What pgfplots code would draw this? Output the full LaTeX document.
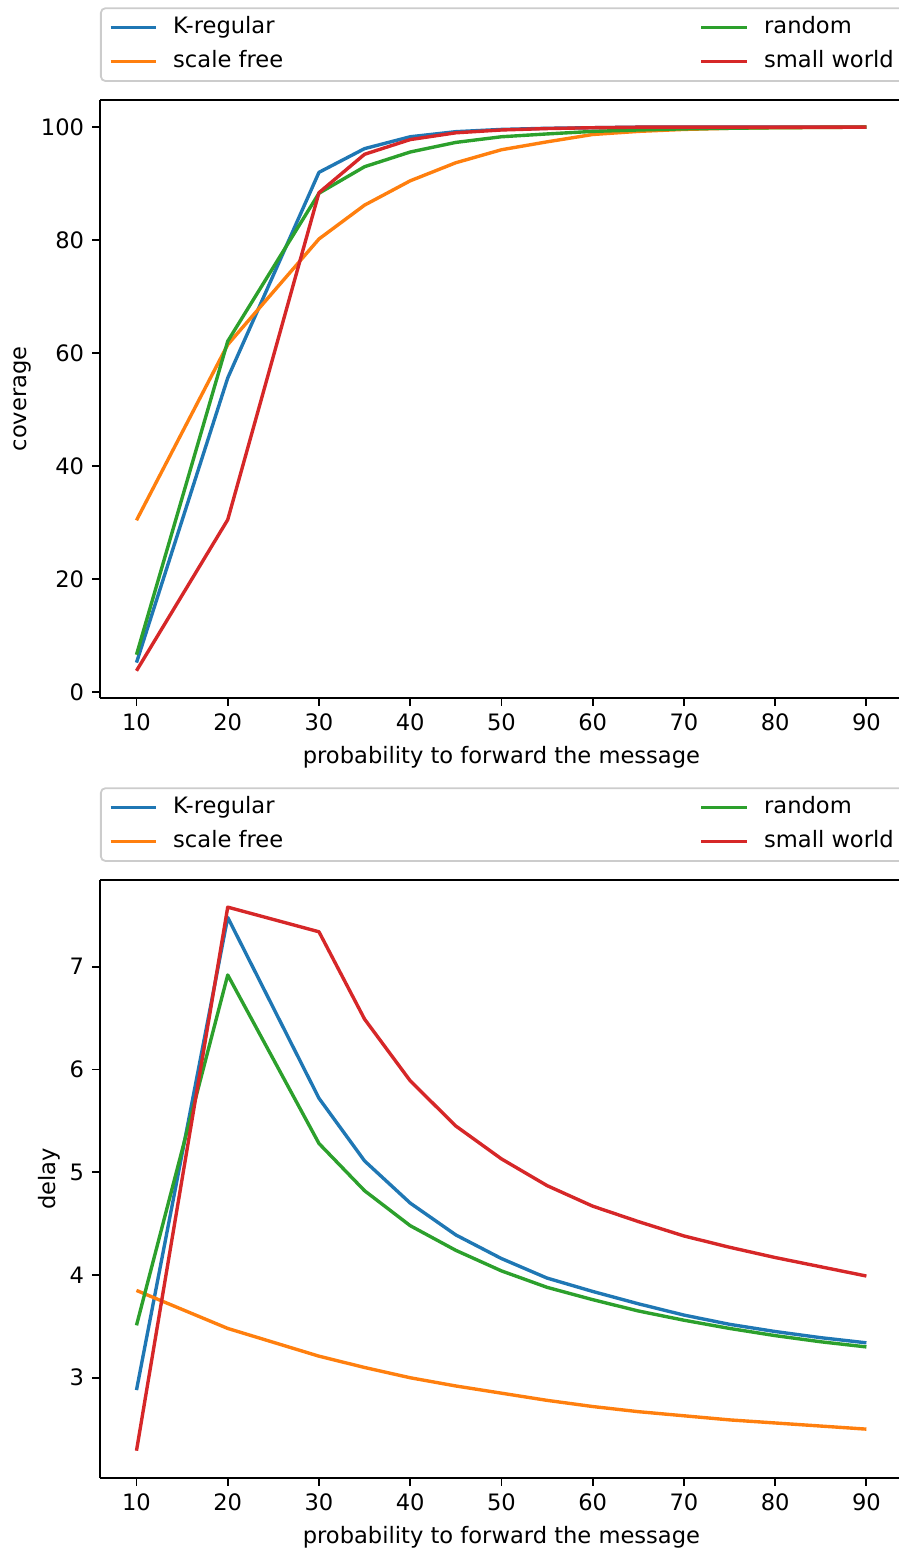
\documentclass[border=0pt]{standalone}
\usepackage{fontspec}
\setmainfont{DejaVu Sans}
\usepackage{pgfplots}
\pgfplotsset{compat=1.18}
\usepackage{pgfplotstable}

\definecolor{c0}{HTML}{1F77B4}
\definecolor{c1}{HTML}{FF7F0E}
\definecolor{c2}{HTML}{2CA02C}
\definecolor{c3}{HTML}{D62728}

\pgfplotstableread{
x   kreg   scale  rand   small
10  5.2    30.4   6.6    3.76
20  55.6   61.5   62.1   30.5
30  92.0   80.2   88.3   88.4
35  96.2   86.2   93.0   95.2
40  98.3   90.5   95.6   97.8
45  99.2   93.7   97.3   99.0
50  99.6   96.0   98.3   99.5
55  99.8   97.4   98.8   99.75
60  99.9   98.7   99.25  99.9
65  100    99.25  99.5   100
70  100    99.6   99.7   100
75  100    99.8   99.8   100
80  100    99.9   99.9   100
85  100    99.95  99.95  100
90  100    100    100    100
}\coverage

\pgfplotstableread{
x   kreg   scale  rand   small
10  2.88   3.85   3.51   2.29
20  7.48   3.48   6.92   7.58
30  5.72   3.21   5.28   7.34
35  5.11   3.10   4.82   6.49
40  4.70   3.00   4.48   5.89
45  4.39   2.92   4.24   5.45
50  4.16   2.85   4.04   5.13
55  3.97   2.78   3.88   4.87
60  3.84   2.72   3.76   4.67
65  3.72   2.67   3.65   4.52
70  3.61   2.63   3.56   4.38
75  3.52   2.59   3.48   4.27
80  3.45   2.56   3.41   4.17
85  3.39   2.53   3.35   4.08
90  3.34   2.50   3.30   3.99
}\delay

\pgfplotsset{
  mpl/.style={
    scale only axis,
    width=355.3pt, height=264.6pt,
    xmin=6, xmax=94,
    xtick={10,20,...,90},
    axis y line*=left,
    tick align=outside,
    tick pos=left,
    major tick length=3.5pt,
    every tick/.style={black, line width=0.8pt},
    axis line style={line width=0.8pt},
    tick label style={font=\fontsize{10}{12}\selectfont},
    label style={font=\fontsize{10}{12}\selectfont},
    ylabel shift=-2.7pt,
    /pgf/number format/assume math mode=true,
    xlabel={probability to forward the message},
    every axis plot/.append style={line width=1.5pt, line join=round},
    legend image code/.code={\draw[#1, line width=1.5pt] (0pt,0pt) -- (20pt,0pt);},
    legend cell align=left,
    legend columns=2,
    legend style={
      at={(0,1)}, anchor=south west, yshift=8pt,
      draw=black!20, line width=0.8pt, rounded corners=2pt, fill=white,
      inner xsep=3.5pt, inner ysep=3.6pt,
      column sep=7pt, row sep=5pt,
      font=\fontsize{10}{12}\selectfont,
      nodes={inner sep=0pt, text height=7.5pt, text depth=2.5pt},
    },
  },
}

\begin{document}
\begin{tikzpicture}
\begin{axis}[mpl,
  at={(44.25pt,-44.25pt)}, anchor=north west,
  ymin=-1.05, ymax=104.81,
  ytick={0,20,...,100},
  ylabel={coverage},
]
\addlegendimage{c0}\addlegendentry{\makebox[226pt][l]{K-regular}}
\addlegendimage{c2}\addlegendentry{\makebox[74pt][l]{random}}
\addlegendimage{c1}\addlegendentry{\makebox[226pt][l]{scale free}}
\addlegendimage{c3}\addlegendentry{\makebox[74pt][l]{small world}}
\addplot[c0, forget plot] table[x=x, y=kreg] {\coverage};
\addplot[c1, forget plot] table[x=x, y=scale] {\coverage};
\addplot[c2, forget plot] table[x=x, y=rand] {\coverage};
\addplot[c3, forget plot] table[x=x, y=small] {\coverage};
\end{axis}

\begin{axis}[mpl,
  at={(44.25pt,-389.4pt)}, anchor=north west,
  ymin=2.0255, ymax=7.8445,
  ytick={3,4,5,6,7},
  ylabel={delay},
]
\addlegendimage{c0}\addlegendentry{\makebox[226pt][l]{K-regular}}
\addlegendimage{c2}\addlegendentry{\makebox[74pt][l]{random}}
\addlegendimage{c1}\addlegendentry{\makebox[226pt][l]{scale free}}
\addlegendimage{c3}\addlegendentry{\makebox[74pt][l]{small world}}
\addplot[c0, forget plot] table[x=x, y=kreg] {\delay};
\addplot[c1, forget plot] table[x=x, y=scale] {\delay};
\addplot[c2, forget plot] table[x=x, y=rand] {\delay};
\addplot[c3, forget plot] table[x=x, y=small] {\delay};
\end{axis}

\pgfresetboundingbox
\useasboundingbox (0pt,0pt) rectangle (397.8pt,-686.8pt);
\end{tikzpicture}
\end{document}
